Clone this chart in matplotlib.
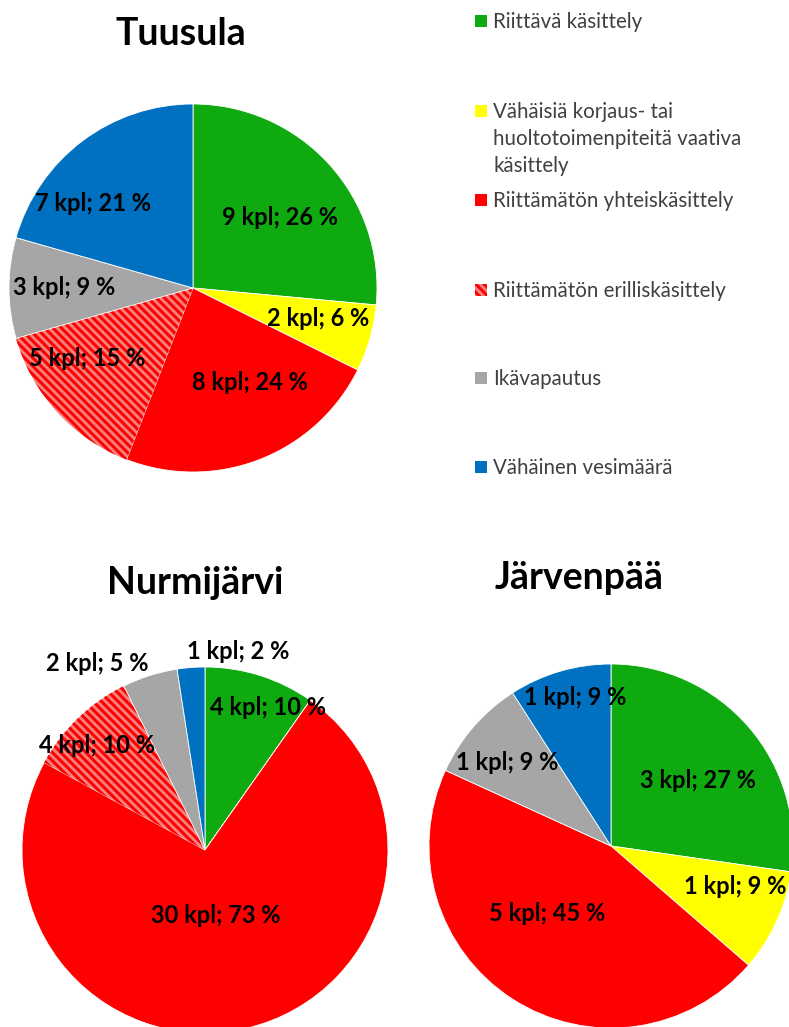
import numpy as np
import matplotlib.pyplot as plt
from matplotlib.patches import Rectangle

plt.rcParams['font.family'] = ['Lato', 'DejaVu Sans']
plt.rcParams['hatch.linewidth'] = 2.2

# Luokat ja värit
categories = [
    "Riittävä käsittely",
    "Vähäisiä korjaus- tai\nhuoltotoimenpiteitä vaativa\nkäsittely",
    "Riittämätön yhteiskäsittely",
    "Riittämätön erilliskäsittely",
    "Ikävapautus",
    "Vähäinen vesimäärä",
]
colors = ["#0FAA0F", "#FFFF00", "#FF0000", "#F4837F", "#A6A6A6", "#0070C0"]

# Kiinteistöjen määrät (kpl)
tuusula = [9, 2, 8, 5, 3, 7]
nurmijarvi = [4, 0, 30, 4, 2, 1]
jarvenpaa = [3, 1, 5, 0, 1, 1]

W, H = 789, 1027
fig = plt.figure(figsize=(W / 100, H / 100), dpi=100)
HATCH = "\\" * 4


def pie_axes(cx, cy, r):
    return fig.add_axes([(cx - r) / W, 1 - (cy + r) / H, 2 * r / W, 2 * r / H])


def draw_pie(ax, values, label_r, label_dt):
    wedges, _ = ax.pie(values, colors=colors, startangle=90, counterclock=False,
                       radius=1, wedgeprops=dict(edgecolor="white", linewidth=0.6))
    # raidoitettu sektori
    wedges[3].set_edgecolor("#FF0000")
    wedges[3].set_linewidth(0)
    wedges[3].set_hatch(HATCH)
    total = sum(values)
    for w, v, rf, dt in zip(wedges, values, label_r, label_dt):
        if v == 0:
            continue
        a = np.deg2rad((w.theta1 + w.theta2) / 2 + dt)
        ax.text(rf * np.cos(a), rf * np.sin(a), f"{v} kpl; {round(100 * v / total)} %",
                ha="center", va="center", fontsize=17, fontweight="bold", color="black")
    ax.set_xlim(-1, 1)
    ax.set_ylim(-1, 1)
    ax.set_aspect("equal")
    ax.axis("off")


ax1 = pie_axes(193, 288, 184)
draw_pie(ax1, tuusula, [0.61, 0.70, 0.60, 0.69, 0.70, 0.71], [-3.5, 2.4, 10, -8.6, 0, 12.7])
ax2 = pie_axes(205, 850, 183)
draw_pie(ax2, nurmijarvi, [0.85, 0, 0.36, 0.82, 1.18, 1.10], [-6.4, 0, -4, 2, 12.5, -14])
ax3 = pie_axes(611, 846, 182)
draw_pie(ax3, jarvenpaa, [0.60, 0.72, 0.51, 0, 0.73, 0.84], [-4, 6.5, -11, 0, 2, -2.7])

# Otsikot
title_kw = dict(ha="center", va="baseline", fontsize=27, fontweight="bold")
fig.text(181 / W, 1 - 45 / H, "Tuusula", **title_kw)
fig.text(195 / W, 1 - 594 / H, "Nurmijärvi", **title_kw)
fig.text(579 / W, 1 - 589 / H, "Järvenpää", **title_kw)

# Selite
legend_y = [21, 111, 200, 290, 378, 467]
for cat, col, y in zip(categories, colors, legend_y):
    rect = Rectangle((475 / W, 1 - (y + 6) / H), 12 / W, 12 / H, transform=fig.transFigure,
                     facecolor=col, edgecolor="none")
    if col == colors[3]:
        rect.set_edgecolor("#FF0000")
        rect.set_linewidth(0)
        rect.set_hatch(HATCH)
    fig.patches.append(rect)
    fig.text(493 / W, 1 - (y - 9) / H, cat, ha="left", va="top", fontsize=14.8,
             color="#404040", linespacing=1.45)

fig.savefig("out.png", dpi=100)
